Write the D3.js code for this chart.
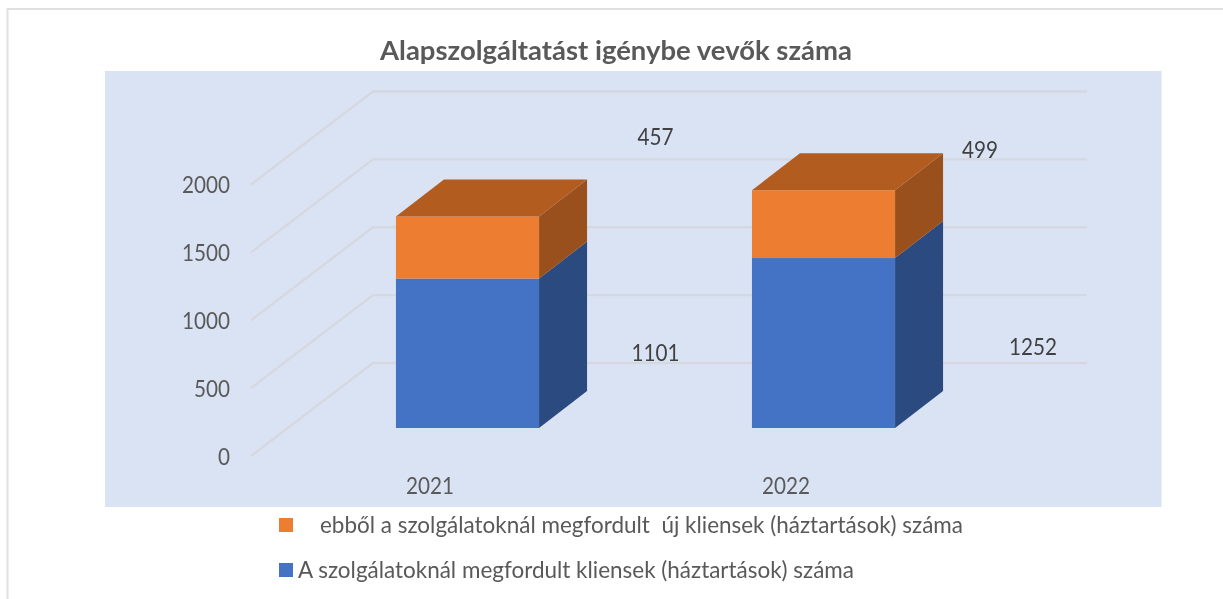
<!DOCTYPE html>
<html><head><meta charset="utf-8">
<script src="https://cdn.jsdelivr.net/npm/d3@7"></script>
<style>html,body{margin:0;background:#fff}svg{display:block;filter:blur(0.4px)}text{font-family:Lato,sans-serif}</style>
</head><body><svg id="c" width="1223" height="599"></svg>
<script>
const categories = ["2021","2022"];
const seriesBase = [1101,1252];
const seriesNew = [457,499];
const yTicks = [0,500,1000,1500,2000];
const seriesNames = ["A szolgálatoknál megfordult kliensek (háztartások) száma","ebből a szolgálatoknál megfordult  új kliensek (háztartások) száma"];
const titleText = "Alapszolgáltatást igénybe vevők száma";
const frontColors = ["#4472C4","#ED7D31"];
const sideColors = ["#2A4A80","#9A501C"];
const topColor = "#B25C20";

const svg = d3.select("#c");
// frame
svg.append("path").attr("d","M7.5 599V9H1223").attr("fill","none").attr("stroke","#e0e0e0").attr("stroke-width",2);
svg.append("rect").attr("x",105).attr("y",71).attr("width",1056.5).attr("height",436).attr("fill","#DAE3F3");

const TXT="#595959";
const CHAR=12;
svg.append("text").text(titleText).attr("x",616).attr("y",60).attr("text-anchor","middle")
  .attr("font-size",27).attr("font-weight",700).attr("fill",TXT)
  .attr("textLength",472).attr("lengthAdjust","spacingAndGlyphs");

const yFront = d3.scaleLinear().domain([0,2000]).range([456,184.5]);
const depth = {dx:122, dy:-93};
const wallRight = 1087;
const x = d3.scaleBand().domain(categories).range([289.5,1001.5]).paddingInner(0.598).paddingOuter(0.299);
const yBarBase = 428;
const yBar = d3.scaleLinear().domain([0,2000]).range([yBarBase,yBarBase-271.5]);
const bd = {dx:48,dy:-37};

// gridlines
const grid = svg.append("g").attr("fill","none").attr("stroke","#D5D8E0").attr("stroke-width",2.4);
grid.selectAll("path").data(yTicks).join("path")
  .attr("d",d=>{const y=yFront(d);return `M251 ${y}L${251+depth.dx} ${y+depth.dy}H${wallRight}`;});

const narrow = (sel)=>sel.attr("font-size",23.5).attr("lengthAdjust","spacingAndGlyphs")
  .attr("textLength",function(){return this.textContent.length*CHAR;}).style("font-family","Lato");

// y axis
const ya = svg.append("g").attr("transform","translate(230,0)").call(d3.axisLeft(yFront).tickValues(yTicks).tickSize(0).tickPadding(0).tickFormat(d3.format("d")));
ya.select(".domain").remove();
ya.selectAll("text").attr("fill",TXT).attr("dy","0.34em").call(narrow);

// x axis
const xa = svg.append("g").attr("transform","translate(-37.5,478)").call(d3.axisBottom(x).tickSize(0).tickPadding(0));
xa.select(".domain").remove();
xa.selectAll("text").attr("fill",TXT).attr("dy","0.34em").attr("y",8).call(narrow);

// stacked 3D bars
const table = categories.map((c,i)=>({cat:c,base:seriesBase[i],fresh:seriesNew[i]}));
const stacked = d3.stack().keys(["base","fresh"])(table);
const w = x.bandwidth();
stacked.forEach((layer,si)=>{
  const g = svg.append("g");
  layer.forEach(d=>{
    const x0=x(d.data.cat),x1=x0+w,y0=yBar(d[0]),y1=yBar(d[1]);
    g.append("polygon").attr("fill",sideColors[si])
      .attr("points",[[x1,y0],[x1+bd.dx,y0+bd.dy],[x1+bd.dx,y1+bd.dy],[x1,y1]].join(" "));
    g.append("rect").attr("x",x0).attr("y",y1).attr("width",w).attr("height",y0-y1).attr("fill",frontColors[si]);
    if(si===stacked.length-1){
      g.append("polygon").attr("fill",topColor)
       .attr("points",[[x0,y1],[x0+bd.dx,y1+bd.dy],[x1+bd.dx,y1+bd.dy],[x1,y1]].join(" "));
    }
  });
});

// data labels
const labelPos = [[655.5,353],[1033,347],[655.5,137],[980,150]];
const labelValues = [...seriesBase,...seriesNew];
svg.append("g").selectAll("text").data(labelValues).join("text").text(d=>d)
  .attr("x",(d,i)=>labelPos[i][0]).attr("y",(d,i)=>labelPos[i][1]).attr("dy","0.34em")
  .attr("text-anchor","middle").attr("fill","#404040").call(narrow);

// legend
const legendRows = [
  {s:1,y:518,tx:320,len:643,ty:525},
  {s:0,y:563,tx:298,len:556,ty:570}
];
const lg = svg.append("g");
legendRows.forEach(r=>{
  lg.append("rect").attr("x",279).attr("y",r.y).attr("width",14).attr("height",14).attr("fill",frontColors[r.s]);
  lg.append("text").text(seriesNames[r.s]).attr("x",r.tx).attr("y",r.ty).attr("dy","0.34em")
    .attr("font-size",23).attr("fill",TXT).attr("xml:space","preserve").style("white-space","pre")
    .attr("textLength",r.len).attr("lengthAdjust","spacingAndGlyphs");
});
</script></body></html>
